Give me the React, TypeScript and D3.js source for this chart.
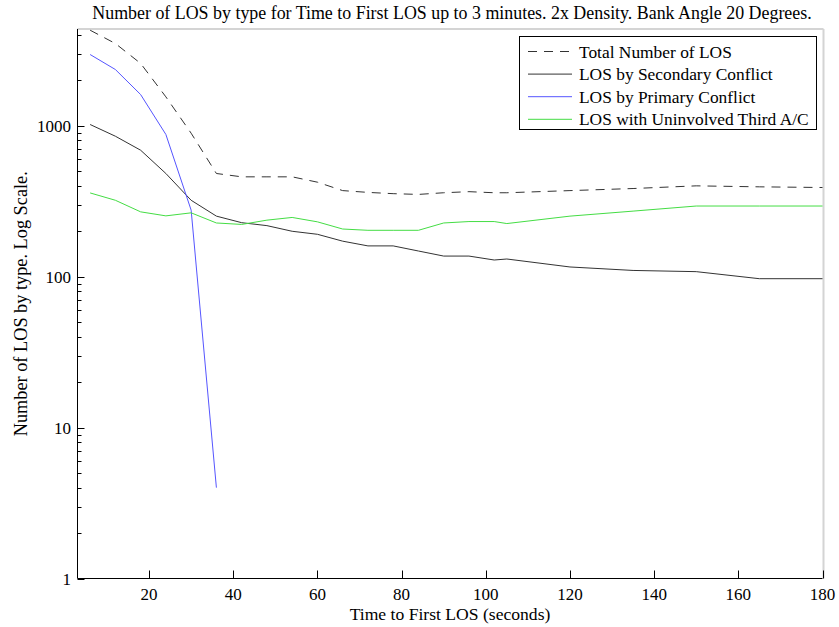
import React from "react";
import * as d3 from "d3";

const times = [6, 12, 18, 24, 30, 36, 42, 48, 54, 60, 66, 72, 78, 84, 90, 96, 102, 105, 120, 135, 150, 165, 180];
const totalLOS = [4300, 3510, 2590, 1555, 893, 483, 459, 459, 459, 423, 372, 362, 355, 351, 360, 366, 360, 360, 372, 384, 400, 394, 390];
const secondaryLOS = [1020, 853, 689, 483, 321, 252, 228, 218, 200, 191, 172, 160, 160, 148, 137, 137, 129, 131, 116, 110, 108, 97, 97];
const primaryTimes = [6, 12, 18, 24, 30, 36];
const primaryLOS = [2967, 2360, 1611, 876, 276, 4];
const uninvolvedLOS = [359, 321, 269, 253, 265, 227, 222, 237, 247, 231, 207, 203, 203, 203, 227, 232, 232, 225, 252, 272, 294, 294, 294];

const xTicks = [20, 40, 60, 80, 100, 120, 140, 160, 180];
const yMajor = [1, 10, 100, 1000];

const legendItems = [
  { label: "Total Number of LOS", color: "#333", dash: "9,7" },
  { label: "LOS by Secondary Conflict", color: "#333", dash: "" },
  { label: "LOS by Primary Conflict", color: "#5555ff", dash: "" },
  { label: "LOS with Uninvolved Third A/C", color: "#44dd44", dash: "" },
];

const W = 839, H = 627;
const L = 77.5, R = 822.5, T = 29, B = 578.5;
const font = "'Liberation Serif', 'Times New Roman', serif";

export default function App() {
  const x = d3.scaleLinear().domain([3, 180]).range([L, R]);
  const y = d3.scaleLog().domain([1, 4380]).range([B, T]);
  const line = d3.line<[number, number]>().x((d) => x(d[0])).y((d) => y(d[1]));

  const minor: number[] = [];
  for (let dec = 1; dec <= 1000; dec *= 10) {
    for (let k = 2; k <= 9; k++) {
      const v = k * dec;
      if (v <= 4380) minor.push(v);
    }
  }

  const zip = (ts: number[], vs: number[]) => ts.map((t, i) => [t, vs[i]] as [number, number]);

  return (
    <svg width={W} height={H} style={{ position: "absolute", left: 0, top: 0, background: "#fff" }} fontFamily={font}>
      <rect x={0} y={0} width={W} height={H} fill="#fff" />
      <text x={452} y={19} textAnchor="middle" fontSize={17.9} fill="#000">
        Number of LOS by type for Time to First LOS up to 3 minutes. 2x Density. Bank Angle 20 Degrees.
      </text>
      {/* top & right frame */}
      <line x1={L} x2={R + 1} y1={T} y2={T} stroke="#d4d4d4" strokeWidth={2} />
      <line x1={R + 1} x2={R + 1} y1={T} y2={B} stroke="#d4d4d4" strokeWidth={2} />

      {/* series */}
      <path d={line(zip(times, totalLOS)) || ""} fill="none" stroke="#333" strokeWidth={1} strokeDasharray="9,7" />
      <path d={line(zip(times, secondaryLOS)) || ""} fill="none" stroke="#333" strokeWidth={1} />
      <path d={line(zip(primaryTimes, primaryLOS)) || ""} fill="none" stroke="#5555ff" strokeWidth={1} />
      <path d={line(zip(times, uninvolvedLOS)) || ""} fill="none" stroke="#44dd44" strokeWidth={1} />

      {/* axes */}
      <line x1={L} x2={L} y1={T} y2={B} stroke="#000" strokeWidth={1} />
      <line x1={L} x2={R} y1={B} y2={B} stroke="#000" strokeWidth={1} />
      {yMajor.map((v) => (
        <g key={"ym" + v}>
          <line x1={L} x2={L + 7} y1={Math.round(y(v)) + 0.5} y2={Math.round(y(v)) + 0.5} stroke="#000" />
          <text x={71} y={y(v) + 6} textAnchor="end" fontSize={17}>{v}</text>
        </g>
      ))}
      {minor.map((v) => (
        <line key={"yn" + v} x1={L} x2={L + 4} y1={Math.round(y(v)) + 0.5} y2={Math.round(y(v)) + 0.5} stroke="#000" />
      ))}
      {xTicks.map((t) => (
        <g key={"x" + t}>
          <line x1={Math.round(x(t)) + 0.5} x2={Math.round(x(t)) + 0.5} y1={B} y2={B - 8} stroke="#000" />
          <text x={x(t)} y={600} textAnchor="middle" fontSize={17}>{t}</text>
        </g>
      ))}
      <text x={(L + R) / 2} y={620} textAnchor="middle" fontSize={17.6}>Time to First LOS (seconds)</text>
      <text transform={`translate(27, ${(T + B) / 2}) rotate(-90)`} textAnchor="middle" fontSize={18.3}>
        Number of LOS by type. Log Scale.
      </text>

      {/* legend */}
      <rect x={519.5} y={36.5} width={297} height={93} fill="#fff" stroke="#000" strokeWidth={1} />
      {legendItems.map((it, i) => {
        const ly = 51.5 + i * 22.6;
        return (
          <g key={it.label}>
            <line x1={528} x2={572} y1={ly} y2={ly} stroke={it.color} strokeDasharray={it.dash || undefined} />
            <text x={579} y={ly + 6} fontSize={17.4}>{it.label}</text>
          </g>
        );
      })}
    </svg>
  );
}
